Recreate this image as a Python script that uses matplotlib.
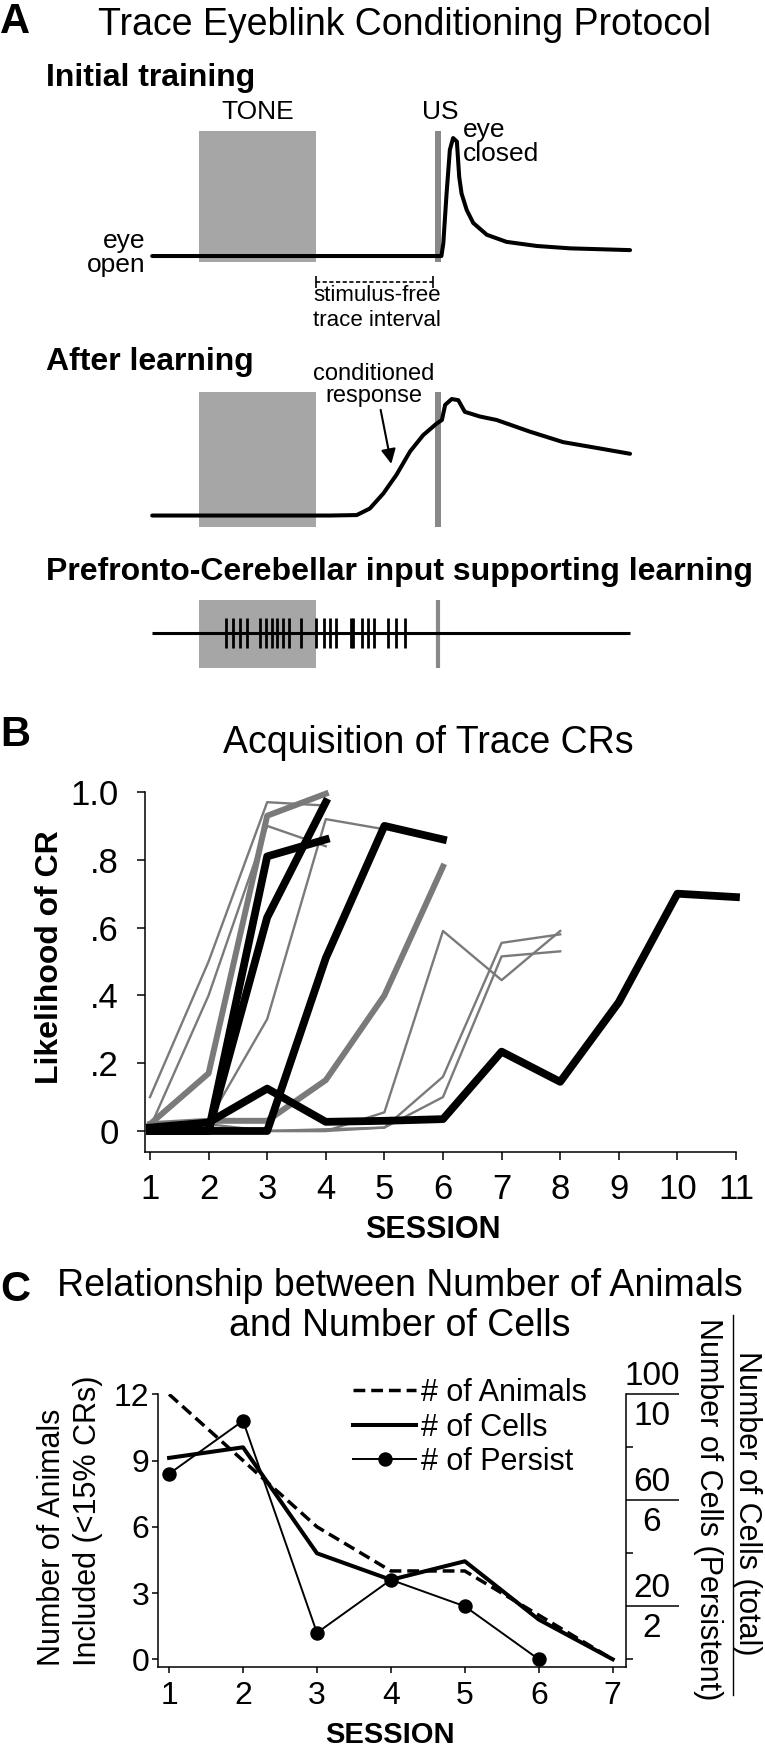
import matplotlib
matplotlib.use("Agg")
import matplotlib.pyplot as plt
from matplotlib.lines import Line2D

plt.rcParams['font.family'] = ['Liberation Sans', 'DejaVu Sans']

# ---------------- Panel A: schematic (time in ms, eyelid closure 0-1) ----------------
tone_on, tone_off = 0, 250
us_time = 510
trace_end = 500

initial_t = [-100, 518, 522, 529, 536, 543, 551, 556, 561, 572, 586, 615, 657, 722, 793, 921]
initial_c = [0, 0, 0.107, 0.53, 0.90, 1.0, 0.97, 0.67, 0.53, 0.39, 0.28, 0.18, 0.12, 0.085, 0.065, 0.05]

learned_t = [-100, 280, 337, 365, 394, 422, 451, 479, 508, 519, 526, 540, 554, 568, 600, 636,
             707, 778, 850, 921]
learned_c = [0, 0, 0.004, 0.06, 0.19, 0.35, 0.55, 0.69, 0.79, 0.82, 0.95, 1.0, 0.99, 0.89, 0.85,
             0.82, 0.72, 0.63, 0.58, 0.53]

spike_t = [57, 73, 88, 103, 130, 143, 155, 167, 180, 193, 217, 250, 268, 280, 292, 325, 329,
           348, 362, 374, 404, 420, 440]

# ---------------- Panel B: likelihood of CR per animal ----------------
sessions_b = list(range(1, 12))
black_lines = [
    [0.01, 0.025, 0.125, 0.027, 0.03, 0.035, 0.234, 0.145, 0.38, 0.70, 0.69],
    [0, 0, 0, 0.51, 0.90, 0.86],
    [0, 0, 0.81, 0.86],
    [0, 0, 0.63, 0.97],
]
thick_gray_lines = [
    [0.02, 0.17, 0.93, 0.995],
    [0.02, 0.03, 0.03, 0.15, 0.40, 0.78],
]
thin_gray_lines = [
    [0.10, 0.50, 0.97, 0.96],
    [0.01, 0.40, 0.90, 0.84],
    [0.01, 0.03, 0.33, 0.92, 0.89],
    [0.0, 0.01, 0.0, 0.0, 0.055, 0.59, 0.445, 0.59],
    [0.01, 0.01, 0.0, 0.0, 0.01, 0.16, 0.555, 0.58],
    [0.01, 0.02, 0.0, 0.005, 0.01, 0.10, 0.515, 0.53],
]
b_yticks = [0, 0.2, 0.4, 0.6, 0.8, 1.0]
b_ytick_labels = ['0', '.2', '.4', '.6', '.8', '1.0']

# ---------------- Panel C: animals and cells per session ----------------
sessions_c = [1, 2, 3, 4, 5, 6, 7]
n_animals = [12, 9, 6, 4, 4, 2, 0]
n_cells_total = [76, 80, 40, 30, 37, 15, 0]
sessions_persist = [1, 2, 3, 4, 5, 6]
n_cells_persist = [7, 9, 1, 3, 2, 0]
total_ticks = [20, 60, 100]
persist_ticks = [2, 6, 10]

W, H = 765, 1751


def box(l, t, r, b):
    return [l / W, 1 - b / H, (r - l) / W, (b - t) / H]


def fpos(x, y):
    return x / W, 1 - y / H


fig = plt.figure(figsize=(7.65, 17.51), dpi=100)

box_gray = '#a6a6a6'
us_gray = '#888888'
line_gray = '#7a7a7a'
t_lim = (-211.5, 985)

# ---- A ----
fig.text(*fpos(0, 22), 'A', fontsize=30, fontweight='bold', ha='left', va='center')
fig.text(*fpos(405, 25), 'Trace Eyeblink Conditioning Protocol', fontsize=27, ha='center', va='center')
fig.text(*fpos(46, 78), 'Initial training', fontsize=23, fontweight='bold', ha='left', va='center')
fig.text(*fpos(46, 362), 'After learning', fontsize=23, fontweight='bold', ha='left', va='center')
fig.text(*fpos(46, 572), 'Prefronto-Cerebellar input supporting learning', fontsize=23,
         fontweight='bold', ha='left', va='center')

axA1 = fig.add_axes(box(100, 90, 660, 330))
axA1.set_xlim(t_lim)
axA1.set_ylim(-0.627, 1.407)
axA1.axis('off')
axA1.bar(tone_on, 1.11, width=tone_off - tone_on, bottom=-0.05, align='edge', color=box_gray, lw=0)
axA1.vlines(us_time, -0.05, 1.06, color=us_gray, lw=4.3)
axA1.plot(initial_t, initial_c, color='k', lw=2.9, solid_joinstyle='round', solid_capstyle='round')
axA1.text((tone_on + tone_off) / 2, 1.22, 'TONE', fontsize=19, ha='center', va='center')
axA1.text(us_time + 5, 1.22, 'US', fontsize=19, ha='center', va='center')
axA1.text(564, 0.966, 'eye\nclosed', fontsize=19, ha='left', va='center', linespacing=1.0)
axA1.text(-115, 0.025, 'eye\nopen', fontsize=19, ha='right', va='center', linespacing=1.0,
          multialignment='right')
axA1.plot([tone_off, trace_end], [-0.22, -0.22], color='k', lw=1.2, ls=(0, (2.5, 1.5)))
axA1.vlines([tone_off, trace_end], -0.27, -0.17, color='k', lw=1.2)
axA1.text((tone_off + trace_end) / 2 + 5, -0.44, 'stimulus-free\ntrace interval', fontsize=16,
          ha='center', va='center', linespacing=1.2)

axA2 = fig.add_axes(box(100, 370, 660, 540))
axA2.set_xlim(t_lim)
axA2.set_ylim(-0.21, 1.249)
axA2.axis('off')
axA2.bar(tone_on, 1.159, width=tone_off - tone_on, bottom=-0.099, align='edge', color=box_gray, lw=0)
axA2.vlines(us_time, -0.099, 1.06, color=us_gray, lw=4.3)
axA2.plot(learned_t, learned_c, color='k', lw=2.9, solid_joinstyle='round', solid_capstyle='round')
axA2.annotate('', xy=(412, 0.42), xytext=(387, 0.93),
              arrowprops=dict(arrowstyle='-|>', color='k', lw=1.5, mutation_scale=22))
axA2.text(374, 1.12, 'conditioned\nresponse', fontsize=17, ha='center', va='center', linespacing=0.95)

axA3 = fig.add_axes(box(100, 595, 660, 675))
axA3.set_xlim(t_lim)
axA3.set_ylim(-1.4, 1.27)
axA3.axis('off')
axA3.bar(tone_on, 2.267, width=tone_off - tone_on, bottom=-1.167, align='edge', color=box_gray, lw=0)
axA3.vlines(us_time, -1.167, 1.1, color=us_gray, lw=3)
axA3.hlines(0, learned_t[0], learned_t[-1], color='k', lw=2.2)
axA3.vlines(spike_t, -0.5, 0.5, color='k', lw=2)

# ---- B ----
fig.text(*fpos(0, 735), 'B', fontsize=30, fontweight='bold', ha='left', va='center')
fig.text(*fpos(428, 743), 'Acquisition of Trace CRs', fontsize=27, ha='center', va='center')

axB = fig.add_axes(box(145, 792, 736, 1152))
for vals in thin_gray_lines:
    axB.plot(sessions_b[:len(vals)], vals, color=line_gray, lw=1.7, clip_on=False)
for vals in thick_gray_lines:
    axB.plot(sessions_b[:len(vals)], vals, color=line_gray, lw=4.3, clip_on=False)
for vals in black_lines:
    axB.plot(sessions_b[:len(vals)], vals, color='k', lw=5.6, clip_on=False)
axB.set_xlim(0.915, 11)
axB.set_ylim(-0.062, 1.0)
axB.spines[['top', 'right']].set_visible(False)
for s in ['left', 'bottom']:
    axB.spines[s].set_linewidth(1.1)
axB.set_xticks(sessions_b)
axB.set_yticks(b_yticks, b_ytick_labels)
axB.tick_params(axis='both', length=5.8, width=1.1, labelsize=25)
axB.tick_params(axis='y', pad=13)
axB.tick_params(axis='x', pad=9)
fig.text(*fpos(50, 957), 'Likelihood of CR', fontsize=23, fontweight='bold', rotation=90,
         ha='center', va='center')
fig.text(*fpos(433, 1230), 'SESSION', fontsize=22, fontweight='bold', ha='center', va='center')

# ---- C ----
fig.text(*fpos(0, 1290), 'C', fontsize=30, fontweight='bold', ha='left', va='center')
fig.text(*fpos(400, 1306), 'Relationship between Number of Animals\nand Number of Cells', fontsize=27,
         ha='center', va='center', linespacing=1.15)

axC = fig.add_axes(box(158, 1394.3, 626, 1666.7))
axC.set_xlim(0.85, 7.18)
axC.set_ylim(-0.335, 12)
axCt = axC.twinx()
axCt.set_ylim(-0.335 * 100 / 12, 100)
axCp = axC.twinx()
axCp.set_ylim(-0.335 * 10 / 12, 10)

h1, = axC.plot(sessions_c, n_animals, color='k', lw=2.5, ls=(0, (3.4, 1.7)), label='# of Animals')
h2, = axCt.plot(sessions_c, n_cells_total, color='k', lw=2.9, label='# of Cells')
h3, = axCp.plot(sessions_persist, n_cells_persist, color='k', lw=1.4, marker='o', ms=9.4,
                label='# of Persist')

axC.spines[['top', 'right']].set_visible(False)
for s in ['left', 'bottom']:
    axC.spines[s].set_linewidth(1.1)
axC.set_xticks(sessions_c)
axC.set_yticks([0, 3, 6, 9, 12])
axC.tick_params(axis='both', length=4.3, width=1.1, labelsize=23)
axC.tick_params(axis='y', pad=2)
axC.tick_params(axis='x', pad=6)

axCt.spines[['top', 'left', 'bottom']].set_visible(False)
axCt.spines['right'].set_linewidth(1.1)
axCt.set_yticks([0, 40, 80])
axCt.set_yticks(total_ticks, minor=True)
axCt.tick_params(which='major', length=5, width=1.1, labelright=False)
axCt.tick_params(which='minor', length=38, width=1.1, labelright=False)
for v in total_ticks:
    axCt.annotate(str(v), xy=(1, v), xycoords=('axes fraction', 'data'), xytext=(18.7, 12.7),
                  textcoords='offset points', ha='center', va='center', fontsize=24)

axCp.axis('off')
for v in persist_ticks:
    axCp.annotate(str(v), xy=(1, v), xycoords=('axes fraction', 'data'), xytext=(18.7, -16.1),
                  textcoords='offset points', ha='center', va='center', fontsize=24)

axCp.legend(handles=[h1, h2, h3], loc='upper left', bbox_to_anchor=(0.417, 1.06), frameon=False,
            fontsize=22, handlelength=2.06, handletextpad=0.16, labelspacing=0.15,
            borderpad=0, borderaxespad=0)

fig.text(*fpos(70, 1521), 'Number of Animals\nIncluded (<15% CRs)', fontsize=22, rotation=90,
         ha='center', va='center', multialignment='left', linespacing=1.25)
fig.text(*fpos(390, 1735), 'SESSION', fontsize=21, fontweight='bold', ha='center', va='center')
fig.text(*fpos(708, 1509), 'Number of Cells (Persistent)', fontsize=22, rotation=270,
         ha='center', va='center')
fig.text(*fpos(747, 1503), 'Number of Cells (total)', fontsize=22, rotation=270,
         ha='center', va='center')
x_div = 733 / W
fig.add_artist(Line2D([x_div, x_div], [1 - 1315 / H, 1 - 1695 / H], color='k', lw=1))

fig.savefig('out.png', dpi=100)
